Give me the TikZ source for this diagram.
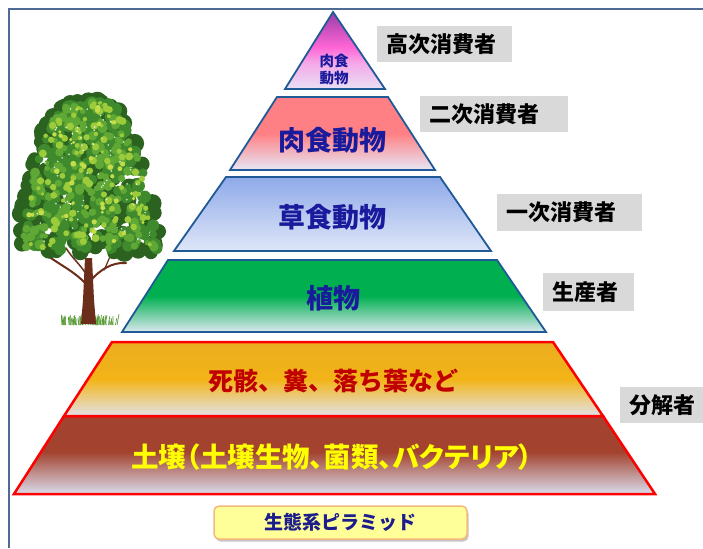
\documentclass[tikz,border=0pt]{standalone}
\usepackage{fontspec}
\newfontfamily\jp{Noto Sans CJK JP}
\newfontfamily\jpprop[RawFeature=+palt]{Noto Sans CJK JP}
\usetikzlibrary{shadows}

% palette
\definecolor{frameblue}{HTML}{4F6B95}
\definecolor{lvlblue}{HTML}{1F5A96}
\definecolor{lvlred}{HTML}{FF0000}
\definecolor{navytext}{HTML}{1A1A9C}
\definecolor{debristext}{HTML}{C00000}
\definecolor{soiltext}{HTML}{FFFF00}
\definecolor{rolegray}{HTML}{D9D9D9}
\definecolor{titlefill}{HTML}{FFFF99}
\definecolor{titleedge}{HTML}{F5B97D}
\definecolor{titletext}{HTML}{1C1C8C}
\definecolor{trunk}{HTML}{6B2E1A}
\definecolor{leafdark}{HTML}{2C6220}
\definecolor{leafmid}{HTML}{3F8A2C}
\definecolor{leafgreen}{HTML}{5FA835}
\definecolor{leaflight}{HTML}{9CCB3B}
\definecolor{leafpale}{HTML}{C3DD4A}
\definecolor{grass}{HTML}{5C9E3A}

% level gradients (bottom -> top, mapped onto 25bp..75bp)
\definecolor{triA}{HTML}{E8E0F5}\definecolor{triB}{HTML}{F5A8E8}
\definecolor{triC}{HTML}{FF66D6}\definecolor{triD}{HTML}{9A3CA8}
\pgfdeclareverticalshading{apexshade}{100bp}{color(0bp)=(triA); color(25bp)=(triA);
  color(42bp)=(triB); color(52bp)=(triC); color(75bp)=(triD); color(100bp)=(triD)}
\definecolor{carnA}{HTML}{E6E8F6}\definecolor{carnB}{HTML}{FF8084}
\pgfdeclareverticalshading{carnshade}{100bp}{color(0bp)=(carnA); color(25bp)=(carnA);
  color(50bp)=(carnB); color(75bp)=(carnB); color(100bp)=(carnB)}
\definecolor{herbA}{HTML}{DFE6F8}\definecolor{herbB}{HTML}{8FAAE9}
\pgfdeclareverticalshading{herbshade}{100bp}{color(0bp)=(herbA); color(25bp)=(herbA);
  color(75bp)=(herbB); color(100bp)=(herbB)}
\definecolor{plantA}{HTML}{DCE8F0}\definecolor{plantB}{HTML}{00B050}
\pgfdeclareverticalshading{plantshade}{100bp}{color(0bp)=(plantA); color(25bp)=(plantA);
  color(50bp)=(plantB); color(75bp)=(plantB); color(100bp)=(plantB)}
\definecolor{debA}{HTML}{E2E2EA}\definecolor{debB}{HTML}{F2B417}\definecolor{debC}{HTML}{EBAD1F}
\pgfdeclareverticalshading{debrisshade}{100bp}{color(0bp)=(debA); color(25bp)=(debA);
  color(50bp)=(debB); color(75bp)=(debC); color(100bp)=(debC)}
\definecolor{soilA}{HTML}{DADCEC}\definecolor{soilB}{HTML}{A3432F}
\pgfdeclareverticalshading{soilshade}{100bp}{color(0bp)=(soilA); color(25bp)=(soilA);
  color(52bp)=(soilB); color(75bp)=(soilB); color(100bp)=(soilB)}

\begin{document}
\begin{tikzpicture}[x=1pt,y=-1pt,
  upperlvl/.style={draw=lvlblue, line width=1.8pt, line join=miter},
  lowerlvl/.style={draw=lvlred, line width=2.5pt, line join=miter},
  lvltext/.style={font=\jp\fontsize{27}{30}\selectfont\bfseries, inner sep=0pt},
  rolebox/.style={fill=rolegray, font=\jp\fontsize{22}{24}\selectfont\bfseries,
    text=black, inner xsep=9pt, inner ysep=0pt, align=left, anchor=west},
  titlebox/.style={rounded corners=5pt, fill=titlefill, draw=titleedge, line width=1.5pt,
    drop shadow={shadow xshift=1.5pt, shadow yshift=-2.5pt, opacity=0.45},
    minimum width=253pt, minimum height=33pt, inner sep=0pt,
    font=\jp\fontsize{19}{21}\selectfont\bfseries, text=titletext}
]
\useasboundingbox (0,0) rectangle (703,548);
\fill[white] (0,0) rectangle (703,548);

% outer frame (top and left edges)
\draw[frameblue, line width=2.5pt] (9,548) -- (9,9) -- (703,9);

% ---------------- tree ----------------
\pgfmathsetseed{11}
% grass tuft
\foreach \i in {1,...,70}{
  \pgfmathsetmacro\gx{62+56*rnd}
  \pgfmathsetmacro\gh{4+7*rnd}
  \pgfmathsetmacro\gd{4*rnd-2}
  \draw[grass, line width=0.7pt] (\gx,325) -- (\gx+\gd,325-\gh);
}
% trunk and branches
\fill[trunk] (81,324) -- (83,300) -- (85,258) -- (92,258) -- (94,300) -- (96,324) -- cycle;
\draw[trunk, line width=2pt, line cap=round] (86,284) .. controls (75,272) and (62,266) .. (48,256);
\draw[trunk, line width=1.5pt, line cap=round] (86,274) .. controls (80,264) and (72,258) .. (66,248);
\draw[trunk, line width=2pt, line cap=round] (91,280) .. controls (100,270) and (112,262) .. (126,263);
\draw[trunk, line width=1.2pt, line cap=round] (104,270) .. controls (108,262) and (110,256) .. (113,250);
% foliage: layers of leaf clusters inside the crown outline
\foreach \i in {1,...,240}{
  \pgfmathsetmacro\u{rnd}
  \pgfmathsetmacro\yy{100+154*\u}
  \pgfmathsetmacro\ww{74*(\u+0.01)^0.33}
  \pgfmathsetmacro\xx{88+\ww*(2*rnd-1)}
  \pgfmathsetmacro\rr{6+4*rnd}
  \fill[leafdark] (\xx,\yy) circle[radius=\rr];
}
\foreach \i in {1,...,260}{
  \pgfmathsetmacro\u{rnd}
  \pgfmathsetmacro\yy{102+148*\u}
  \pgfmathsetmacro\ww{70*(\u+0.01)^0.33}
  \pgfmathsetmacro\xx{88+\ww*(2*rnd-1)}
  \pgfmathsetmacro\rr{3.5+3.5*rnd}
  \fill[leafmid] (\xx,\yy) circle[radius=\rr];
}
\foreach \i in {1,...,180}{
  \pgfmathsetmacro\u{rnd}
  \pgfmathsetmacro\yy{102+146*\u}
  \pgfmathsetmacro\ww{68*(\u+0.01)^0.33}
  \pgfmathsetmacro\xx{88+\ww*(2*rnd-1)}
  \pgfmathsetmacro\rr{2.5+2.5*rnd}
  \fill[leafgreen] (\xx,\yy) circle[radius=\rr];
}
\foreach \i in {1,...,110}{
  \pgfmathsetmacro\u{rnd}
  \pgfmathsetmacro\yy{102+146*\u}
  \pgfmathsetmacro\ww{68*(\u+0.01)^0.33}
  \pgfmathsetmacro\xx{88+\ww*(2*rnd-1)}
  \pgfmathsetmacro\rr{1.8+2.2*rnd}
  \fill[leaflight] (\xx,\yy) circle[radius=\rr];
}
\foreach \i in {1,...,40}{
  \pgfmathsetmacro\u{rnd}
  \pgfmathsetmacro\yy{104+140*\u}
  \pgfmathsetmacro\ww{64*(\u+0.01)^0.33}
  \pgfmathsetmacro\xx{88+\ww*(2*rnd-1)}
  \pgfmathsetmacro\rr{1.5+1.5*rnd}
  \fill[leafpale] (\xx,\yy) circle[radius=\rr];
}
\foreach \i in {1,...,60}{
  \pgfmathsetmacro\u{rnd}
  \pgfmathsetmacro\yy{106+136*\u}
  \pgfmathsetmacro\ww{62*(\u+0.01)^0.33}
  \pgfmathsetmacro\xx{88+\ww*(2*rnd-1)}
  \fill[white, opacity=0.8] (\xx,\yy) circle[radius=0.9];
}

% ---------------- pyramid ----------------
\shadedraw[upperlvl, shading=apexshade] (333,12) -- (385,89) -- (285,89) -- cycle;
\shadedraw[upperlvl, shading=carnshade] (277,97) -- (388,97) -- (435,170) -- (230,170) -- cycle;
\shadedraw[upperlvl, shading=herbshade] (226,177) -- (440,177) -- (491,251) -- (174,251) -- cycle;
\shadedraw[upperlvl, shading=plantshade] (168,260) -- (497,260) -- (546,332) -- (122,332) -- cycle;
\shadedraw[lowerlvl, shading=soilshade] (64,416) -- (603,416) -- (655,494) -- (14,494) -- cycle;
\shadedraw[lowerlvl, shading=debrisshade] (112,342) -- (553,342) -- (603,416) -- (64,416) -- cycle;

% level captions
\node[font=\jp\fontsize{14.5}{16}\selectfont\bfseries, text=navytext, inner sep=0pt] (apexA) at (334,61) {肉食};
\node[font=\jp\fontsize{14.5}{16}\selectfont\bfseries, text=navytext, inner sep=0pt] (apexB) at (334,78) {動物};
\node[lvltext, text=navytext] (carn) at (332,140) {肉食動物};
\node[lvltext, text=navytext] (herb) at (332,217) {草食動物};
\node[lvltext, text=navytext] (plant) at (333,298) {植物};
\node[lvltext, font=\jp\fontsize{25}{28}\selectfont\bfseries, text=debristext] (debris) at (333,381) {死骸、糞、落ち葉など};
\node[lvltext, font=\jpprop\fontsize{27.5}{30}\selectfont\bfseries, text=soiltext] (soil) at (332,457) {土壌（土壌生物、菌類、バクテリア）};

% trophic roles
\node[rolebox, text width=117pt, minimum height=36pt] (tertiary) at (377,44) {高次消費者};
\node[rolebox, text width=130pt, minimum height=36pt] (secondary) at (420,114) {二次消費者};
\node[rolebox, text width=127pt, minimum height=37pt] (primary) at (497,212.5) {一次消費者};
\node[rolebox, text width=73pt, minimum height=38pt] (producer) at (543,292) {生産者};
\node[rolebox, text width=68pt, minimum height=36pt] (decomposer) at (620,405) {分解者};

% title
\node[titlebox] (title) at (340.5,522.5) {生態系ピラミッド};
\end{tikzpicture}
\end{document}
